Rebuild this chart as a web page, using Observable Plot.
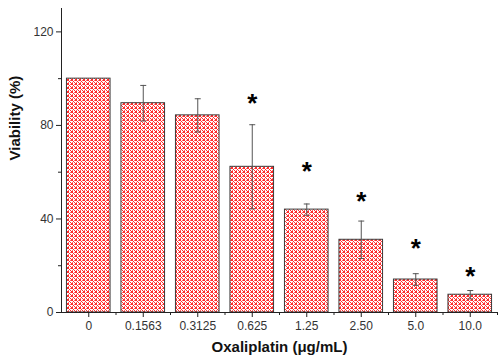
<!DOCTYPE html>
<html><head><meta charset="utf-8">
<script src="https://cdn.jsdelivr.net/npm/d3@7"></script>
<script src="https://cdn.jsdelivr.net/npm/@observablehq/plot@0.6"></script>
<style>
body{margin:0;background:#fff;}
#chart svg{display:block;font-family:"Liberation Sans",Arial,sans-serif;}
</style>
</head><body><div id="chart"></div>
<script>
const categories = ["0","0.1563","0.3125","0.625","1.25","2.50","5.0","10.0"];
const viability = [100, 89.5, 84.3, 62.3, 44.0, 31.1, 14.1, 7.6];
const errors = [0, 7.6, 7.1, 18, 2.4, 8, 2.5, 1.8];
const significant = [false,false,false,true,true,true,true,true];
const starLevel = [null,null,null,92,63,50,30,18];
const yMajorTicks = [0,40,80,120];
const yMinorTicks = [20,60,100];

const data = categories.map((c,i)=>({i, c, v: viability[i], e: errors[i], sig: significant[i], s: starLevel[i]}));
const errData = data.filter(d=>d.e>0);
const starData = data.filter(d=>d.sig);

const chart = Plot.plot({
  width: 503, height: 363,
  marginLeft: 61, marginRight: 6, marginTop: 8, marginBottom: 51,
  style: {fontFamily: '"Liberation Sans", Arial, sans-serif', fontSize: "12px", color: "#333"},
  x: {domain: [-0.5, 7.5], axis: null},
  y: {domain: [0, 130], axis: null},
  marks: [
    Plot.rectY(data, {x1: d=>d.i-0.4, x2: d=>d.i+0.4, y1: 0, y2: "v", fill: "url(#hatch)", stroke: "#3a3a3a", strokeWidth: 1}),
    Plot.ruleX(errData, {x: "i", y1: d=>d.v-d.e, y2: d=>d.v+d.e, stroke: "#555", strokeWidth: 1}),
    Plot.link(errData, {x1: d=>d.i-0.055, x2: d=>d.i+0.055, y1: d=>d.v+d.e, y2: d=>d.v+d.e, stroke: "#555", strokeWidth: 1}),
    Plot.link(errData, {x1: d=>d.i-0.055, x2: d=>d.i+0.055, y1: d=>d.v-d.e, y2: d=>d.v-d.e, stroke: "#555", strokeWidth: 1}),
    Plot.text(starData, {x: "i", y: "s", text: d=>"*", fontSize: 26, fontWeight: "bold", fill: "#000", dy: 6}),
    Plot.ruleX([-0.5], {stroke: "#222", strokeWidth: 1}),
    Plot.ruleY([0], {stroke: "#222", strokeWidth: 1}),
    Plot.axisY({ticks: yMajorTicks, tickSize: 5, tickPadding: 3, stroke: "#222", fill: "#333", fontSize: 12, label: null}),
    Plot.axisY({ticks: yMinorTicks, tickSize: 3, tickFormat: null, text: null, stroke: "#222", label: null}),
    Plot.axisX({ticks: d3.range(categories.length), tickFormat: i=>categories[i], tickSize: 5, tickPadding: 4, stroke: "#222", fill: "#333", fontSize: 12, label: null}),
    Plot.axisX({ticks: d3.range(categories.length).map(i=>i+0.5), tickSize: 3, text: null, stroke: "#222", label: null}),
    Plot.text(["Viability (%)"], {frameAnchor: "left", dx: -46, rotate: -90, fontSize: 15, fontWeight: "bold", fill: "#111"}),
    Plot.text(["Oxaliplatin (\u03bcg/mL)"], {frameAnchor: "bottom", dy: 39, fontSize: 15, fontWeight: "bold", fill: "#111"})
  ]
});

const ns = "http://www.w3.org/2000/svg";
const defs = document.createElementNS(ns, "defs");
defs.innerHTML = `<pattern id="hatch" patternUnits="userSpaceOnUse" width="4" height="4">
  <rect width="4" height="4" fill="#fff"/>
  <path shape-rendering="crispEdges" fill="#ff2b2b" d="M0,0h1v1h-1z M1,1h1v1h-1z M2,2h1v1h-1z M3,3h1v1h-1z M3,0h1v1h-1z M0,3h1v1h-1z"/>
  <path shape-rendering="crispEdges" fill="#ff6a6a" d="M2,0h1v1h-1z M0,2h1v1h-1z"/>
</pattern>`;
chart.insertBefore(defs, chart.firstChild);
document.getElementById("chart").appendChild(chart);
</script></body></html>
